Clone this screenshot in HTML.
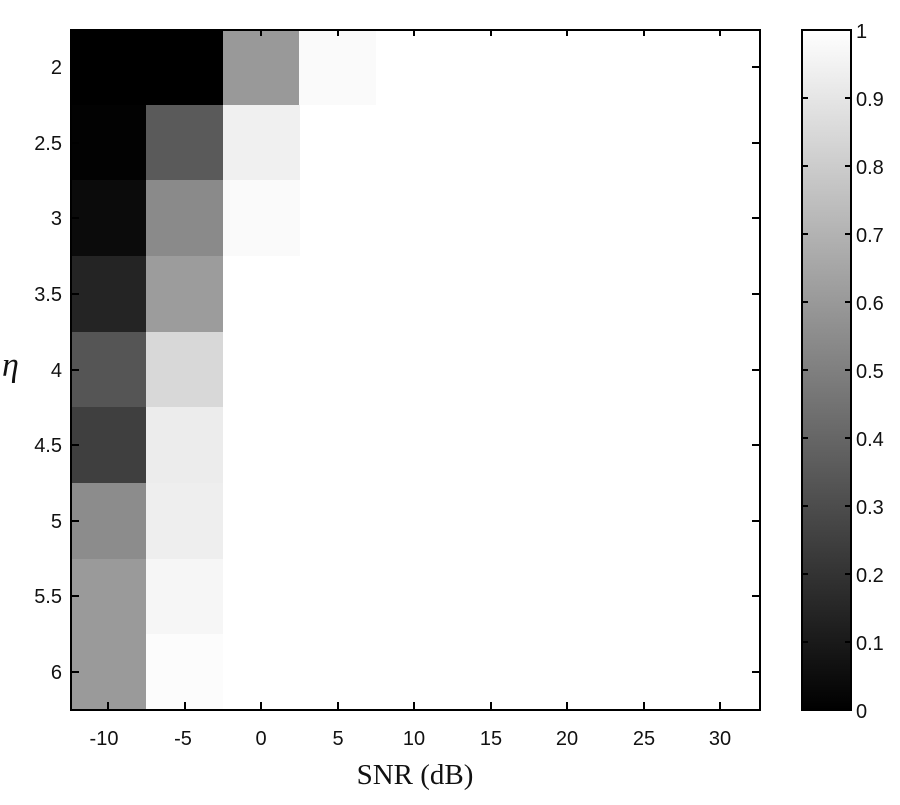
<!DOCTYPE html>
<html><head><style>
html,body{margin:0;padding:0;background:#fff;}
</style></head><body>
<svg width="900" height="800" xmlns="http://www.w3.org/2000/svg" font-family="Liberation Sans, sans-serif">
<defs><linearGradient id="g" x1="0" y1="1" x2="0" y2="0"><stop offset="0" stop-color="#000"/><stop offset="1" stop-color="#fff"/></linearGradient></defs>
<rect x="70" y="29" width="690" height="681" fill="#fff"/>
<g shape-rendering="crispEdges">
<rect x="70" y="29" width="77" height="76" fill="#000"/><rect x="146" y="29" width="77" height="76" fill="#000"/><rect x="223" y="29" width="77" height="76" fill="#999"/><rect x="299" y="29" width="77" height="76" fill="#fafafa"/>
<rect x="70" y="105" width="77" height="76" fill="#020202"/><rect x="146" y="105" width="77" height="76" fill="#5a5a5a"/><rect x="223" y="105" width="77" height="76" fill="#f0f0f0"/>
<rect x="70" y="180" width="77" height="76" fill="#0b0b0b"/><rect x="146" y="180" width="77" height="76" fill="#8a8a8a"/><rect x="223" y="180" width="77" height="76" fill="#fafafa"/>
<rect x="70" y="256" width="77" height="76" fill="#242424"/><rect x="146" y="256" width="77" height="76" fill="#9c9c9c"/>
<rect x="70" y="332" width="77" height="76" fill="#555"/><rect x="146" y="332" width="77" height="76" fill="#d8d8d8"/>
<rect x="70" y="407" width="77" height="76" fill="#3f3f3f"/><rect x="146" y="407" width="77" height="76" fill="#ececec"/>
<rect x="70" y="483" width="77" height="76" fill="#8c8c8c"/><rect x="146" y="483" width="77" height="76" fill="#eeeeee"/>
<rect x="70" y="559" width="77" height="76" fill="#9a9a9a"/><rect x="146" y="559" width="77" height="76" fill="#f6f6f6"/>
<rect x="70" y="634" width="77" height="76" fill="#9a9a9a"/><rect x="146" y="634" width="77" height="76" fill="#fcfcfc"/>
</g>
<rect x="71" y="30" width="689" height="680" fill="none" stroke="#000" stroke-width="2"/>
<g stroke="#000" stroke-width="2">
<path d="M108 710v-8M185 710v-8M261 710v-8M338 710v-8M414 710v-8M491 710v-8M567 710v-8M644 710v-8M720 710v-8"/>
<path d="M108 30v6M185 30v6M261 30v6M338 30v6M414 30v6M491 30v6M567 30v6M644 30v6M720 30v6"/>
<path d="M71 67h8M71 143h8M71 218h8M71 294h8M71 370h8M71 445h8M71 521h8M71 596h8M71 672h8"/>
<path d="M760 67h-8M760 143h-8M760 218h-8M760 294h-8M760 370h-8M760 445h-8M760 521h-8M760 596h-8M760 672h-8"/>
</g>
<g font-size="20" fill="#111" text-anchor="middle">
<text x="104" y="745">-10</text><text x="183" y="745">-5</text><text x="261" y="745">0</text><text x="338" y="745">5</text><text x="414" y="745">10</text><text x="491" y="745">15</text><text x="567" y="745">20</text><text x="644" y="745">25</text><text x="720" y="745">30</text>
</g>
<g font-size="20" fill="#111" text-anchor="end">
<text x="62" y="74">2</text><text x="62" y="150">2.5</text><text x="62" y="225">3</text><text x="62" y="301">3.5</text><text x="62" y="377">4</text><text x="62" y="452">4.5</text><text x="62" y="528">5</text><text x="62" y="603">5.5</text><text x="62" y="679">6</text>
</g>
<text x="415" y="784" font-family="Liberation Serif, serif" font-size="29" text-anchor="middle" fill="#111">SNR (dB)</text>
<text x="2" y="376" font-family="Liberation Serif, serif" font-style="italic" font-size="34" fill="#111">η</text>
<rect x="802" y="30" width="49" height="680" fill="url(#g)" stroke="#000" stroke-width="2"/>
<g stroke="#000" stroke-width="2">
<path d="M802 98h6M802 166h6M802 234h6M802 302h6M802 370h6M802 438h6M802 506h6M802 574h6M802 642h6"/>
<path d="M851 98h-6M851 166h-6M851 234h-6M851 302h-6M851 370h-6M851 438h-6M851 506h-6M851 574h-6M851 642h-6"/>
</g>
<g font-size="20" fill="#111">
<text x="856" y="38">1</text><text x="856" y="106">0.9</text><text x="856" y="174">0.8</text><text x="856" y="242">0.7</text><text x="856" y="310">0.6</text><text x="856" y="378">0.5</text><text x="856" y="446">0.4</text><text x="856" y="514">0.3</text><text x="856" y="582">0.2</text><text x="856" y="650">0.1</text><text x="856" y="718">0</text>
</g>
</svg>
</body></html>
